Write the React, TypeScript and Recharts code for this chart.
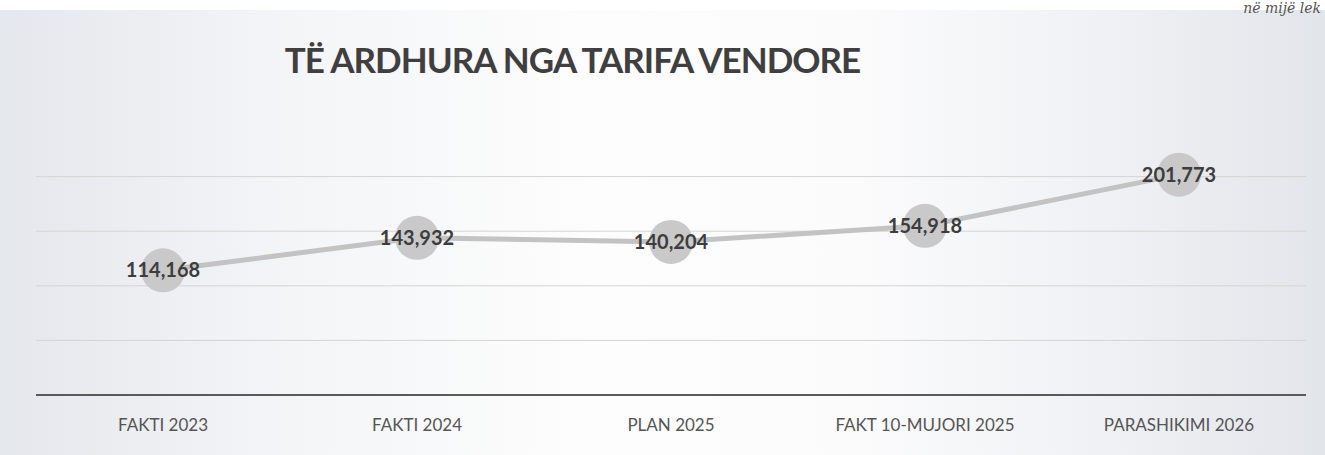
import { LineChart, Line, XAxis, YAxis, CartesianGrid, LabelList } from "recharts"

const categories = ["FAKTI 2023", "FAKTI 2024", "PLAN 2025", "FAKT 10-MUJORI 2025", "PARASHIKIMI 2026"]
const revenue = [114168, 143932, 140204, 154918, 201773]
const yTicks = [0, 50000, 100000, 150000, 200000]

const data = categories.map((name, i) => ({ name, value: revenue[i] }))

const fmt = (v: number) => v.toLocaleString("en-US")

export default function App() {
  return (
    <div
      style={{
        position: "absolute",
        left: 0,
        top: 0,
        width: 1325,
        height: 455,
        background: "#ffffff",
        overflow: "hidden",
      }}
    >
      <div
        style={{
          position: "absolute",
          left: 0,
          top: 10,
          width: 1325,
          height: 445,
          background: "linear-gradient(90deg, #e4e7ec 0%, #f4f5f7 22%, #fdfdfd 45%, #fbfbfc 65%, #eef0f3 85%, #e2e5ea 100%)",
        }}
      />
      <div
        style={{
          position: "absolute",
          right: 4,
          top: 0,
          lineHeight: "16px",
          fontFamily: "'DejaVu Serif', 'Liberation Serif', serif",
          fontStyle: "italic",
          fontSize: 14,
          color: "#555",
        }}
      >
        në mijë lek
      </div>
      <div
        style={{
          position: "absolute",
          left: 0,
          width: 1145,
          top: 38,
          textAlign: "center",
          fontFamily: "Lato, 'Open Sans', sans-serif",
          fontWeight: 700,
          fontSize: 35,
          letterSpacing: -1,
          color: "#3f3f3f",
        }}
      >
        TË ARDHURA NGA TARIFA VENDORE
      </div>
      <div style={{ position: "absolute", left: 0, top: 0 }}>
        <LineChart width={1325} height={455} data={data} margin={{ top: 122, right: 19, bottom: 30, left: 36 }}>
          <CartesianGrid vertical={false} horizontalValues={yTicks} stroke="#d4d4d4" strokeWidth={1} />
          <XAxis
            dataKey="name"
            height={30}
            padding={{ left: 127, right: 127 }}
            axisLine={{ stroke: "#5a5a5a", strokeWidth: 2 }}
            tickLine={false}
            tick={{ fill: "#555", fontSize: 17, fontFamily: "Lato, 'Open Sans', sans-serif" }}
            dy={16}
          />
          <YAxis hide domain={[0, 250000]} ticks={yTicks} />
          <Line
            type="linear"
            dataKey="value"
            stroke="#c3c3c3"
            strokeWidth={5}
            dot={{ r: 22, fill: "#c9c9c9", stroke: "none" }}
            isAnimationActive={false}
          >
            <LabelList
              dataKey="value"
              position="center"
              formatter={(v: any) => fmt(Number(v))}
              style={{ fill: "#3d3d3d", fontSize: 20, fontWeight: 700, fontFamily: "Lato, 'Open Sans', sans-serif" }}
            />
          </Line>
        </LineChart>
      </div>
    </div>
  )
}
